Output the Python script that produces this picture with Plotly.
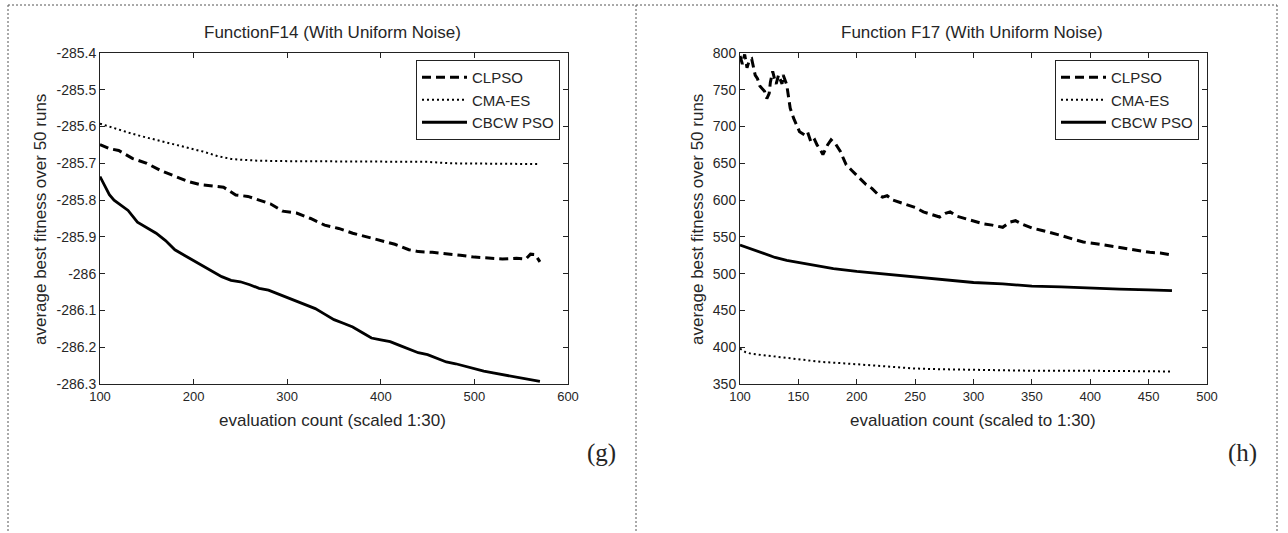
import plotly.graph_objects as go

W, H = 1288, 533

# ---------------- data: F14 (left) ----------------
f14_cma_x = [100, 110, 120, 135, 150, 170, 190, 210, 225, 240, 250, 270, 300, 350, 400, 450, 475, 500, 530, 550, 570]
f14_cma_y = [-285.592, -285.600, -285.610, -285.620, -285.630, -285.643, -285.655, -285.668, -285.680, -285.688,
             -285.690, -285.693, -285.694, -285.695, -285.695, -285.696, -285.700, -285.701, -285.702, -285.702, -285.702]

f14_cl_x = [100, 110, 120, 135, 150, 165, 180, 195, 207, 220, 232, 245, 258, 270, 282, 295, 310, 325, 340, 355,
            370, 385, 400, 415, 430, 440, 455, 470, 485, 500, 515, 530, 545, 555, 560, 565, 570]
f14_cl_y = [-285.649, -285.660, -285.665, -285.687, -285.700, -285.720, -285.735, -285.750, -285.758, -285.762,
            -285.765, -285.786, -285.790, -285.800, -285.810, -285.830, -285.835, -285.850, -285.868, -285.877,
            -285.890, -285.900, -285.910, -285.920, -285.935, -285.940, -285.942, -285.945, -285.950, -285.955,
            -285.958, -285.960, -285.958, -285.960, -285.947, -285.948, -285.968]

f14_cb_x = [100, 105, 110, 115, 120, 130, 140, 150, 160, 170, 180, 190, 200, 210, 220, 230, 240, 250, 260, 270,
            280, 290, 300, 310, 320, 330, 340, 350, 360, 370, 380, 390, 400, 410, 420, 430, 440, 450, 460, 470,
            480, 490, 500, 510, 520, 530, 540, 550, 560, 570]
f14_cb_y = [-285.736, -285.760, -285.785, -285.800, -285.810, -285.828, -285.860, -285.875, -285.890, -285.910,
            -285.935, -285.950, -285.965, -285.980, -285.995, -286.008, -286.018, -286.022, -286.030, -286.040,
            -286.045, -286.055, -286.065, -286.075, -286.085, -286.095, -286.110, -286.125, -286.135, -286.145,
            -286.160, -286.175, -286.180, -286.185, -286.195, -286.205, -286.215, -286.220, -286.230, -286.240,
            -286.245, -286.252, -286.260, -286.265, -286.270, -286.275, -286.280, -286.285, -286.290, -286.293]

# ---------------- data: F17 (right) ----------------
f17_cl_x = [100, 102, 104, 106, 108, 110, 113, 115, 117, 119, 121, 123, 125, 126, 128, 130, 131, 133, 134, 136,
            137, 139, 140, 143, 146, 151, 156, 158, 161, 164, 166, 169, 171, 175, 178, 182, 186, 189, 191, 196,
            200, 204, 208, 213, 218, 222, 226, 231, 237, 243, 250, 257, 264, 271, 276, 280, 286, 292, 300, 308,
            316, 325, 331, 336, 342, 350, 358, 366, 375, 385, 394, 408, 423, 437, 451, 460, 468]
f17_cl_y = [796, 785, 798, 780, 790, 792, 770, 765, 755, 752, 748, 738, 745, 760, 775, 762, 758, 770, 765, 758,
            770, 762, 757, 725, 711, 693, 688, 692, 678, 682, 675, 668, 662, 675, 682, 676, 666, 655, 648, 640,
            634, 628, 621, 616, 608, 604, 606, 600, 597, 593, 590, 584, 580, 577, 582, 584, 578, 575, 572, 568,
            566, 563, 570, 572, 567, 562, 559, 556, 552, 547, 543, 540, 536, 532, 529, 528, 526]

f17_cma_x = [100, 105, 110, 120, 130, 150, 170, 190, 210, 230, 250, 275, 300, 350, 400, 450, 470]
f17_cma_y = [398, 393, 391, 389, 387, 383, 380, 378, 376, 373, 371, 370, 369, 368, 368, 367, 367]

f17_cb_x = [100, 110, 120, 130, 140, 150, 160, 180, 200, 225, 250, 275, 300, 325, 350, 375, 400, 425, 450, 470]
f17_cb_y = [539, 533, 528, 522, 518, 515, 512, 507, 503, 499, 495, 492, 488, 486, 483, 482, 480, 479, 478, 477]

series_names = ["CLPSO", "CMA-ES", "CBCW PSO"]
f14_xticks = [100, 200, 300, 400, 500, 600]
f14_yticks = [-285.4, -285.5, -285.6, -285.7, -285.8, -285.9, -286, -286.1, -286.2, -286.3]
f14_yticklabels = ["-285.4", "-285.5", "-285.6", "-285.7", "-285.8", "-285.9", "-286", "-286.1", "-286.2", "-286.3"]
f17_xticks = [100, 150, 200, 250, 300, 350, 400, 450, 500]
f17_yticks = [350, 400, 450, 500, 550, 600, 650, 700, 750, 800]

# ---------------- layout helpers (pixel -> paper) ----------------
def px(x):
    return x / W

def py(y):
    return 1 - y / H

FONT = "Liberation Sans"
SERIF = "Liberation Serif"
TXT = "#262626"

styles = [
    dict(color="black", width=3, dash="9px,5px"),
    dict(color="black", width=2, dash="2px,3px"),
    dict(color="black", width=2.8, dash="solid"),
]

fig = go.Figure()

left = [(f14_cl_x, f14_cl_y), (f14_cma_x, f14_cma_y), (f14_cb_x, f14_cb_y)]
right = [(f17_cl_x, f17_cl_y), (f17_cma_x, f17_cma_y), (f17_cb_x, f17_cb_y)]

for (xs, ys), name, st in zip(left, series_names, styles):
    fig.add_trace(go.Scatter(x=xs, y=ys, mode="lines", name=name, line=st,
                             xaxis="x", yaxis="y", legend="legend"))
for (xs, ys), name, st in zip(right, series_names, styles):
    fig.add_trace(go.Scatter(x=xs, y=ys, mode="lines", name=name, line=st,
                             xaxis="x2", yaxis="y2", legend="legend2"))

axis_common = dict(showgrid=False, zeroline=False, showline=True, linecolor="#222222", linewidth=1,
                   mirror="ticks", ticks="inside", ticklen=5, tickcolor="#222222", automargin=False)
xfont = dict(family=FONT, size=13, color=TXT)
yfont = dict(family=FONT, size=14, color=TXT)

y_top, y_bot = 53, 384

legend_common = dict(xanchor="right", yanchor="top", bgcolor="white",
                     bordercolor="#222222", borderwidth=1, font=dict(family=FONT, size=15, color=TXT),
                     tracegroupgap=0, itemwidth=45)

fig.update_layout(
    width=W, height=H,
    margin=dict(l=0, r=0, t=0, b=0),
    paper_bgcolor="white", plot_bgcolor="white",
    showlegend=True,
    xaxis=dict(domain=[px(100), px(568)], range=[100, 600], tickvals=f14_xticks, anchor="y",
               tickfont=xfont, **axis_common),
    yaxis=dict(domain=[py(y_bot), py(y_top)], range=[-286.3, -285.4], tickvals=f14_yticks,
               ticktext=f14_yticklabels, anchor="x", tickfont=yfont, **axis_common),
    xaxis2=dict(domain=[px(740), px(1207)], range=[100, 500], tickvals=f17_xticks, anchor="y2",
                tickfont=xfont, **axis_common),
    yaxis2=dict(domain=[py(y_bot), py(y_top)], range=[350, 800], tickvals=f17_yticks, anchor="x2",
                tickfont=yfont, **axis_common),
    legend=dict(x=px(560), y=py(60), **legend_common),
    legend2=dict(x=px(1199), y=py(60), **legend_common),
)

ann = []
def text(x, y, s, size=17, family=FONT, angle=0):
    ann.append(dict(x=px(x), y=py(y), xref="paper", yref="paper", text=s, showarrow=False,
                    xanchor="center", yanchor="middle", textangle=angle,
                    font=dict(family=family, size=size, color=TXT)))

text(332, 33, "FunctionF14 (With Uniform Noise)")
text(972, 33, "Function F17 (With Uniform Noise)")
text(332, 420, "evaluation count (scaled 1:30)")
text(973, 420, "evaluation count (scaled to 1:30)")
text(40, 220, "average best fitness over 50 runs", angle=-90)
text(697, 220, "average best fitness over 50 runs", angle=-90)
text(601, 453, "(g)", size=25, family=SERIF)
text(1242, 453, "(h)", size=25, family=SERIF)
fig.update_layout(annotations=ann)

shapes = []
border = dict(color="#555555", width=1, dash="2px,2px")
shapes.append(dict(type="line", xref="paper", yref="paper", x0=px(8), x1=px(1277), y0=py(5), y1=py(5), line=border))
for xv in (8, 636, 1277):
    shapes.append(dict(type="line", xref="paper", yref="paper", x0=px(xv), x1=px(xv), y0=py(5), y1=0, line=border))
fig.update_layout(shapes=shapes)

fig.write_html("out.html", config={"displayModeBar": False},
               post_script="document.body.style.margin='0';document.body.style.overflow='hidden';")
